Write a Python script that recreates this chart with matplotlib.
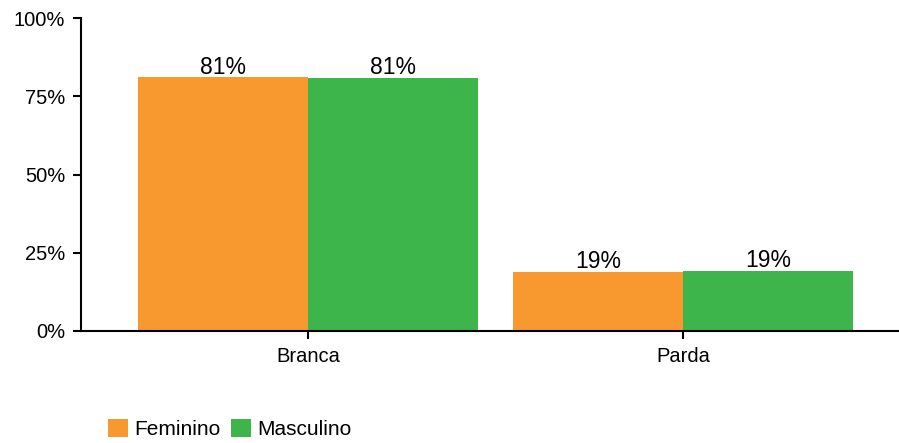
import matplotlib
matplotlib.use("Agg")
import matplotlib.pyplot as plt
import numpy as np

categories = ["Branca", "Parda"]
feminino = [81.1, 18.9]
masculino = [80.8, 19.2]
series_names = ["Feminino", "Masculino"]
colors = ["#F7992F", "#3DB54A"]

plt.rcParams['font.family'] = ['Liberation Sans', 'DejaVu Sans']
plt.rcParams['font.size'] = 14.5

fig = plt.figure(figsize=(8.99, 4.43), dpi=100)
ax = fig.add_axes([81 / 899, 1 - 331 / 443, 1 - 81 / 899, (331 - 18) / 443])

x = np.arange(len(categories))
w = 0.453
bars_f = ax.bar(x - w / 2, np.array(feminino) / 100, w, color=colors[0], label=series_names[0])
bars_m = ax.bar(x + w / 2, np.array(masculino) / 100, w, color=colors[1], label=series_names[1])

for bars, vals in ((bars_f, feminino), (bars_m, masculino)):
    for b, v in zip(bars, vals):
        ax.annotate('{:.0f}%'.format(v), (b.get_x() + b.get_width() / 2, b.get_height()),
                    xytext=(0, -1), textcoords='offset points', ha='center', va='bottom',
                    fontsize=16.5)

ax.set_xlim(-0.605, 1.576)
ax.set_ylim(0, 1)
ax.set_yticks([0, 0.25, 0.5, 0.75, 1.0])
ax.set_yticklabels(['0%', '25%', '50%', '75%', '100%'])
ax.set_xticks(x)
ax.set_xticklabels(categories)

for s in ['top', 'right']:
    ax.spines[s].set_visible(False)
for s in ['left', 'bottom']:
    ax.spines[s].set_linewidth(1.5)
ax.tick_params(axis='both', length=5.5, width=1.5, pad=6)

fig.legend(handles=[bars_f, bars_m], loc='lower left', bbox_to_anchor=(100 / 899, -0.01),
           ncol=2, frameon=False, handlelength=0.95, handleheight=0.95,
           handletextpad=0.3, columnspacing=0.5, borderaxespad=0.0, fontsize=15)

fig.savefig('out.png', dpi=100)
